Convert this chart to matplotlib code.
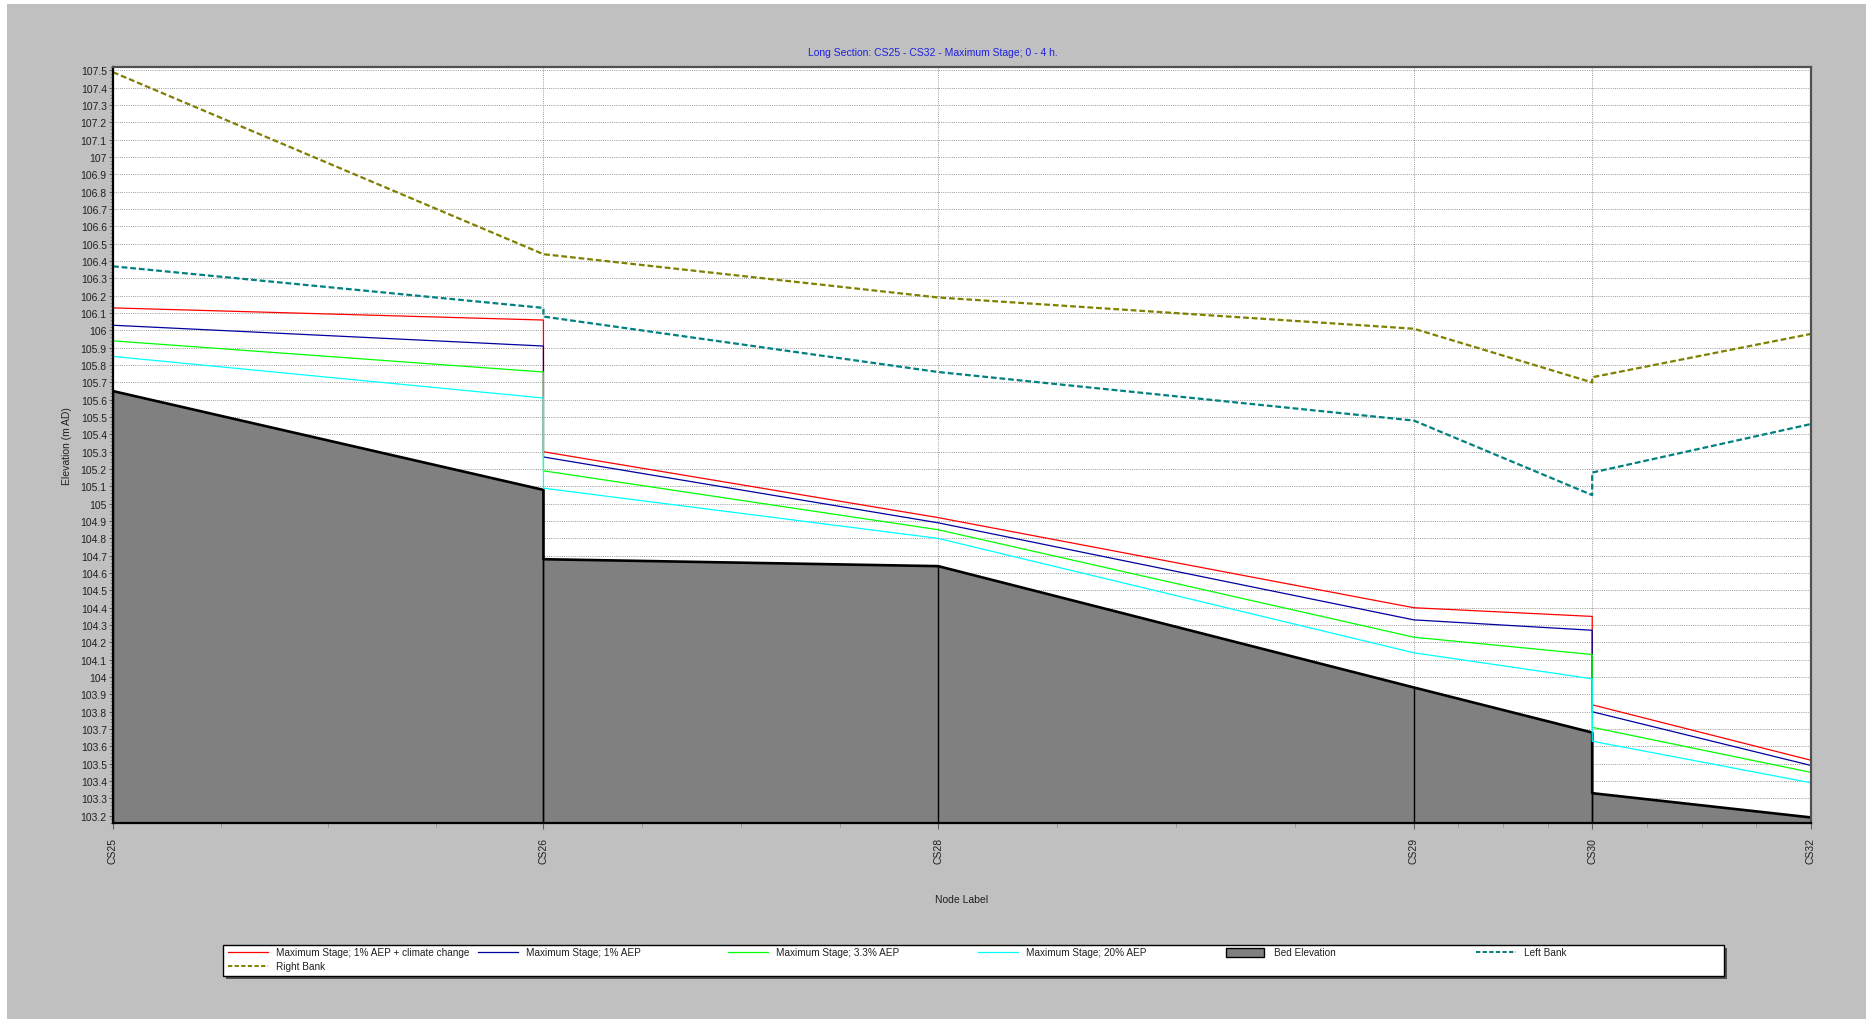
import matplotlib.pyplot as plt
from matplotlib.patches import Rectangle
from matplotlib.lines import Line2D

node_labels = ['CS25', 'CS26', 'CS28', 'CS29', 'CS30', 'CS32']
node_chainage = [0, 181, 347, 547, 622, 714]

# points along the section (CS26 and CS30 have an upstream and a downstream value)
point_chainage = [0, 181, 181, 347, 547, 622, 622, 714]

stage_1pc_cc = [106.13, 106.06, 105.30, 104.92, 104.40, 104.35, 103.84, 103.52]
stage_1pc = [106.03, 105.91, 105.27, 104.89, 104.33, 104.27, 103.80, 103.49]
stage_3pc = [105.94, 105.76, 105.19, 104.85, 104.23, 104.13, 103.71, 103.45]
stage_20pc = [105.85, 105.61, 105.09, 104.80, 104.14, 103.99, 103.63, 103.39]
bed_level = [105.65, 105.08, 104.68, 104.64, 103.94, 103.68, 103.33, 103.19]
left_bank = [106.37, 106.13, 106.08, 105.76, 105.48, 105.05, 105.18, 105.46]
right_bank = [107.49, 106.44, 106.44, 106.19, 106.01, 105.70, 105.73, 105.98]

y_ticks = [round(103.2 + 0.1 * i, 1) for i in range(44)]

legend_names = ['Maximum Stage; 1% AEP + climate change', 'Maximum Stage; 1% AEP',
                'Maximum Stage; 3.3% AEP', 'Maximum Stage; 20% AEP',
                'Bed Elevation', 'Left Bank', 'Right Bank']

plt.rcParams['font.family'] = ['Liberation Sans', 'DejaVu Sans']

W, H = 1866, 1020
fig = plt.figure(figsize=(W / 100, H / 100), dpi=100)
fig.patch.set_facecolor('white')
fig.add_artist(Rectangle((7 / W, 0), 1, 1 - 5 / H, transform=fig.transFigure,
                         facecolor='#c0c0c0', edgecolor='none', zorder=-10))

ax = fig.add_axes([113 / W, (H - 824) / H, (1811 - 113) / W, (824 - 68) / H])
ax.set_facecolor('white')

ymin, ymax = 103.158, 107.52
ax.set_xlim(node_chainage[0], node_chainage[-1])
ax.set_ylim(ymin, ymax)

# bed
ax.fill_between(point_chainage, bed_level, ymin, color='#808080', linewidth=0, zorder=2)
ax.vlines(point_chainage, ymin, bed_level, color='black', linewidth=1.0, zorder=3)
ax.plot(point_chainage, bed_level, color='black', linewidth=1.9, zorder=4)

colors = ['#ff0000', '#0000a0', '#00ff00', '#00ffff']
for vals, c in zip([stage_1pc_cc, stage_1pc, stage_3pc, stage_20pc], colors):
    ax.plot(point_chainage, vals, color=c, linewidth=0.9, zorder=5)

ax.plot(point_chainage, left_bank, color='#008080', linewidth=1.6,
        linestyle=(0, (2.6, 1.3)), zorder=6)
ax.plot(point_chainage, right_bank, color='#808000', linewidth=1.6,
        linestyle=(0, (2.6, 1.3)), zorder=6)

# axes / ticks
ax.set_yticks(y_ticks)
ax.set_yticklabels([f'{v:.1f}'.rstrip('0').rstrip('.') for v in y_ticks])
ax.set_yticks([103.16 + 0.02 * i for i in range(219)], minor=True)
ax.set_xticks(node_chainage)
ax.set_xticklabels(node_labels, rotation=90)
minor_x = []
for a, b in zip(node_chainage[:-1], node_chainage[1:]):
    minor_x += [a + (b - a) * k / 4 for k in (1, 2, 3)]
ax.set_xticks(minor_x, minor=True)

ax.tick_params(axis='y', which='major', labelsize=7.5, length=3, width=0.8, pad=1.5,
               colors='#606060', labelcolor='#202020')
ax.tick_params(axis='y', which='minor', length=2, width=0.6, colors='#808080')
ax.tick_params(axis='x', which='major', labelsize=7.5, length=4, width=0.8, pad=6,
               colors='#606060', labelcolor='#202020')
ax.tick_params(axis='x', which='minor', length=3, width=0.6, colors='#909090')

ax.grid(True, which='major', color='#8c8c8c', linewidth=0.65, linestyle=(0, (1, 1.4)), zorder=1)
ax.set_axisbelow(True)

for side in ['left', 'bottom']:
    ax.spines[side].set_color('black')
    ax.spines[side].set_linewidth(1.6)
for side in ['top', 'right']:
    ax.spines[side].set_color('#505050')
    ax.spines[side].set_linewidth(1.6)
for s in ax.spines.values():
    s.set_zorder(8)

ax.set_ylabel('Elevation (m AD)', fontsize=7.5, color='#202020', labelpad=6)
ax.set_xlabel('Node Label', fontsize=7.5, color='#202020')
ax.xaxis.set_label_coords(0.5, -(895 - 824) / (824 - 68))

fig.text(0.5, 1 - 53 / H, 'Long Section: CS25 - CS32 - Maximum Stage; 0 - 4 h.',
         ha='center', va='center', fontsize=7.5, color='#2020e0')

# legend box drawn in pixel units
lx, ly, lw, lh = 223, H - 977, 1501, 31
lax = fig.add_axes([lx / W, ly / H, lw / W, lh / H])
lax.set_xlim(0, lw)
lax.set_ylim(0, lh)
lax.axis('off')
lax.add_patch(Rectangle((3, -3), lw, lh, facecolor='#505050', edgecolor='none',
                        clip_on=False, zorder=0))
lax.add_patch(Rectangle((0, 0), lw, lh, facecolor='white', edgecolor='black',
                        linewidth=1.0, clip_on=False, zorder=1))

handles = [
    dict(color='#ff0000', ls='-', lw=0.9),
    dict(color='#0000a0', ls='-', lw=0.9),
    dict(color='#00ff00', ls='-', lw=0.9),
    dict(color='#00ffff', ls='-', lw=0.9),
    None,
    dict(color='#008080', ls=(0, (2.2, 1.2)), lw=1.4),
    dict(color='#808000', ls=(0, (2.2, 1.2)), lw=1.4),
]
col_x = [5, 255, 505, 755, 1003, 1253]
for i, (name, h) in enumerate(zip(legend_names, handles)):
    row, col = divmod(i, 6)
    x0 = col_x[col]
    yc = 24 - row * 14
    if h is None:
        lax.add_patch(Rectangle((x0, yc - 4.5), 38, 9, facecolor='#808080',
                                edgecolor='black', linewidth=1.0, zorder=2))
    else:
        lax.add_line(Line2D([x0, x0 + 40], [yc, yc], color=h['color'],
                            linestyle=h['ls'], linewidth=h['lw'], zorder=2))
    lax.text(x0 + 48, yc, name, fontsize=7.2, va='center', ha='left',
             color='#202020', zorder=3)

plt.savefig('out.png', dpi=100)
